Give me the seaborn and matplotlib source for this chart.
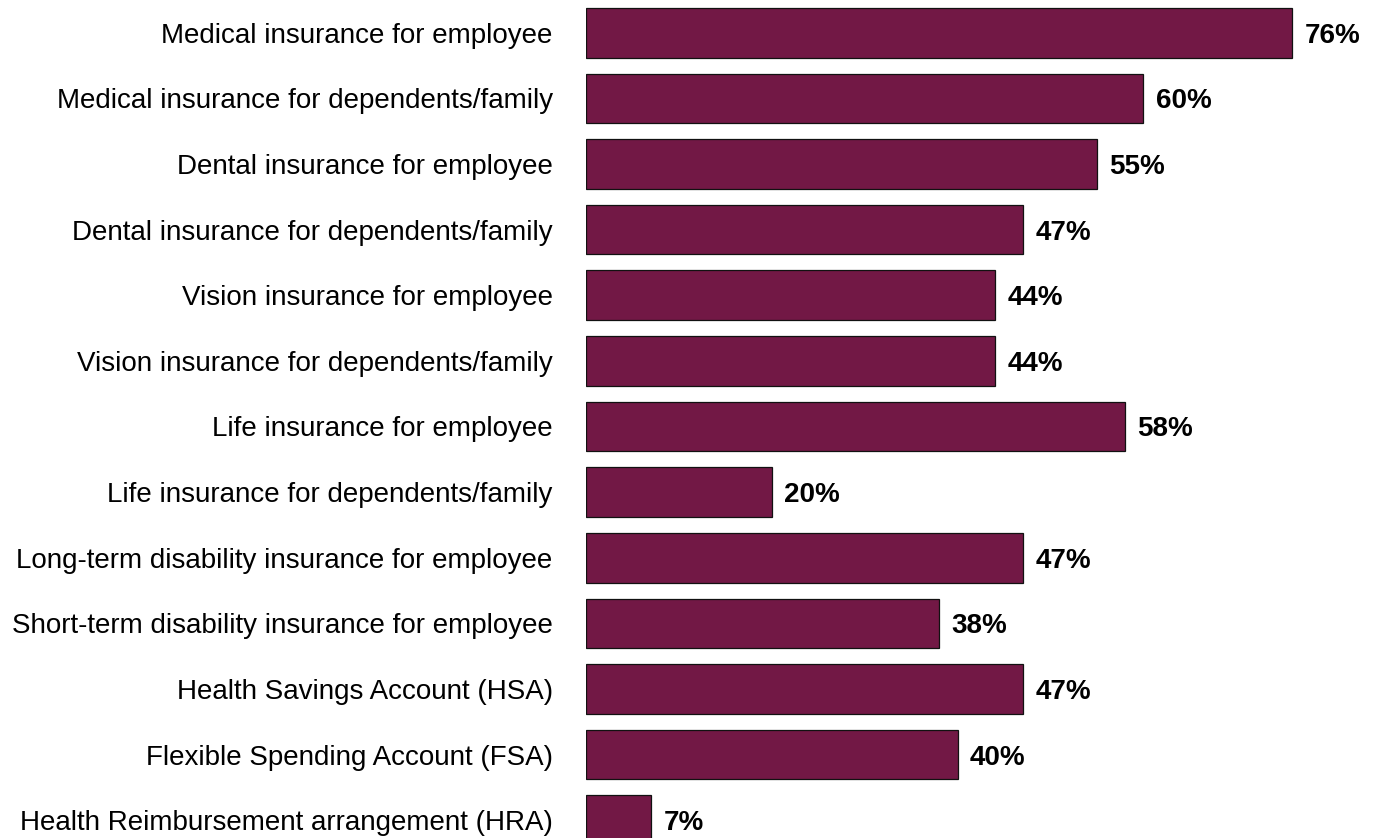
import matplotlib
matplotlib.use("Agg")
import matplotlib.pyplot as plt
import seaborn as sns
import pandas as pd

categories = [
    "Medical insurance for employee",
    "Medical insurance for dependents/family",
    "Dental insurance for employee",
    "Dental insurance for dependents/family",
    "Vision insurance for employee",
    "Vision insurance for dependents/family",
    "Life insurance for employee",
    "Life insurance for dependents/family",
    "Long-term disability insurance for employee",
    "Short-term disability insurance for employee",
    "Health Savings Account (HSA)",
    "Flexible Spending Account (FSA)",
    "Health Reimbursement arrangement (HRA)",
]
percentages = [76, 60, 55, 47, 44, 44, 58, 20, 47, 38, 47, 40, 7]

df = pd.DataFrame({"benefit": categories, "pct": percentages})

sns.set_theme(style="white")
plt.rcParams["font.family"] = ["Liberation Sans", "DejaVu Sans"]

W, H = 1375, 838
fig = plt.figure(figsize=(W / 100, H / 100), dpi=100)
ax_left = 586 / W
ax_height = 853 / H
ax_bottom = 1 - ax_height
ax = fig.add_axes([ax_left, ax_bottom, 1 - ax_left, ax_height])

bar_color = "#721845"
sns.barplot(data=df, x="pct", y="benefit", orient="h", color=bar_color,
            saturation=1, width=0.755, edgecolor="#111111", linewidth=0.9, ax=ax)

ax.set_xlim(0, (W - 586) / 9.29)
ax.set_ylim(len(categories) - 0.5, -0.5)

for container in ax.containers:
    texts = ax.bar_label(container, labels=[f"{v}%" for v in percentages], padding=9,
                         fontsize=20, fontweight="bold", color="black")
    for t in texts:
        t.set_va("center_baseline")

ax.set_xlabel("")
ax.set_ylabel("")
ax.set_xticks([])
ax.tick_params(axis="y", length=0, pad=24, labelsize=20, labelcolor="black")
for s in ax.spines.values():
    s.set_visible(False)

fig.savefig("out.png", dpi=100, facecolor="white")
